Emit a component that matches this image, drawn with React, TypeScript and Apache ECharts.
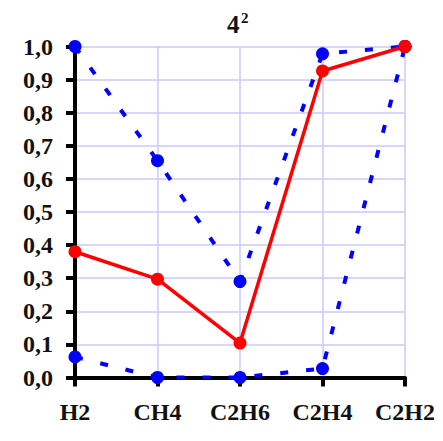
import React, { useEffect, useRef } from "react";
import * as echarts from "echarts";

const categories = ["H2", "CH4", "C2H6", "C2H4", "C2H2"];
const upperBound = [1.0, 0.655, 0.29, 0.978, 1.0];
const lowerBound = [0.062, 0.0, 0.0, 0.027, 1.0];
const measured = [0.38, 0.297, 0.104, 0.926, 1.0];

const FONT = "Liberation Serif";

export default function App() {
  const ref = useRef<HTMLDivElement>(null);

  useEffect(() => {
    if (!ref.current) return;
    const chart = echarts.init(ref.current, undefined, { renderer: "svg" });

    const boundSeries = (name: string, data: number[]) => ({
      name,
      type: "line",
      data,
      symbol: "circle",
      symbolSize: 13,
      clip: false,
      itemStyle: { color: "#0000ff" },
      lineStyle: { color: "#0000ff", width: 4, type: [8, 18] },
    });

    const labelStyle = {
      fontFamily: FONT,
      fontSize: 24,
      fontWeight: "bold" as const,
      color: "#111",
    };

    chart.setOption({
      animation: false,
      backgroundColor: "#ffffff",
      textStyle: { fontFamily: FONT },
      graphic: [
        {
          type: "text",
          left: 227,
          top: 12,
          style: { text: "4", fontFamily: FONT, fontSize: 25, fontWeight: "bold", fill: "#111" },
        },
        {
          type: "text",
          left: 241,
          top: 10,
          style: { text: "2", fontFamily: FONT, fontSize: 15, fontWeight: "bold", fill: "#111" },
        },
      ],
      grid: { left: 75, right: 38, top: 46.5, bottom: 63.5, containLabel: false },
      xAxis: {
        type: "category",
        data: categories,
        boundaryGap: false,
        axisLine: { lineStyle: { color: "#000", width: 4 } },
        axisTick: { show: true, alignWithLabel: true, length: 9, lineStyle: { color: "#000", width: 4 } },
        axisLabel: { ...labelStyle, margin: 22 },
        splitLine: { show: true, lineStyle: { color: "#c8c8ff", width: 1.5 } },
      },
      yAxis: {
        type: "value",
        min: 0,
        max: 1,
        interval: 0.1,
        axisLine: { show: true, lineStyle: { color: "#000", width: 4 } },
        axisTick: { show: true, length: 9, lineStyle: { color: "#000", width: 4 } },
        axisLabel: {
          ...labelStyle,
          margin: 22,
          formatter: (v: number) => v.toFixed(1).replace(".", ","),
        },
        splitLine: { show: true, lineStyle: { color: "#c8c8ff", width: 1.5 } },
      },
      series: [
        boundSeries("upper", upperBound),
        boundSeries("lower", lowerBound),
        {
          name: "measured",
          type: "line",
          data: measured,
          symbol: "circle",
          symbolSize: 13,
          clip: false,
          itemStyle: { color: "#ff0000" },
          lineStyle: { color: "#ff0000", width: 3.5 },
        },
      ],
    });

    return () => chart.dispose();
  }, []);

  return (
    <div
      ref={ref}
      style={{ position: "absolute", left: 0, top: 0, width: 443, height: 441 }}
    />
  );
}
